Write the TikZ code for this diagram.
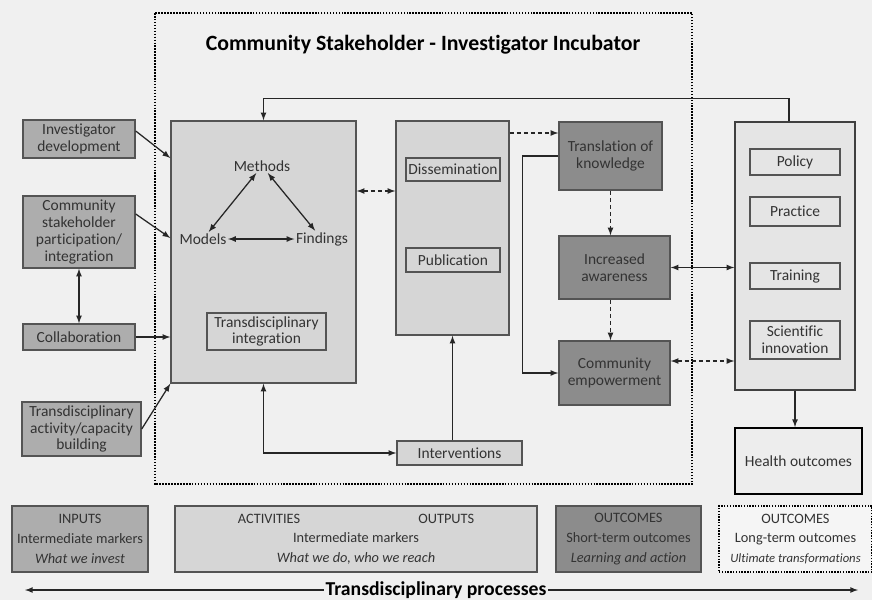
\documentclass[tikz,border=0pt]{standalone}
\usepackage{fontspec}
\setmainfont{Carlito}[Ligatures=NoCommon]
\usetikzlibrary{arrows}

\definecolor{inputgray}{gray}{0.68}
\definecolor{actgray}{gray}{0.84}
\definecolor{shortgray}{gray}{0.55}
\definecolor{longgray}{gray}{0.90}
\definecolor{boxline}{gray}{0.33}
\definecolor{txtgray}{gray}{0.2}

\begin{document}
\begin{tikzpicture}[>=latex, x=0.025cm, y=-0.025cm,
    box/.style={draw=boxline, line width=1pt, align=center, inner sep=1pt, text=txtgray,
        font=\fontsize{11}{12}\selectfont},
    inbox/.style={box, fill=inputgray},
    actbox/.style={box, fill=actgray},
    shortbox/.style={box, fill=shortgray},
    longbox/.style={box, fill=longgray},
    word/.style={text=txtgray, font=\fontsize{11}{12}\selectfont, inner sep=1pt},
    legtext/.style={align=center, text=txtgray, font=\fontsize{10.2}{14}\selectfont},
    link/.style={line width=0.9pt, black!85},
    dlink/.style={link, densely dashed}]
    \useasboundingbox (0,0) rectangle (872,600);
    \fill[black!6] (0,0) rectangle (872,600);

    % Khung incubator
    \draw[densely dotted, line width=1.1pt] (155,13) rectangle (692,484);
    \node[font=\fontsize{15.5}{17}\selectfont\bfseries] (title) at (423,45)
        {Community Stakeholder - Investigator Incubator};

    % Inputs
    \node[inbox, minimum width=2.8cm, minimum height=0.95cm] (inv) at (79,139)
        {Investigator\\development};
    \node[inbox, minimum width=2.8cm, minimum height=1.8cm] (comm) at (79,232)
        {Community\\stakeholder\\participation/\\integration};
    \node[inbox, minimum width=2.8cm, minimum height=0.65cm] (collab) at (79,337)
        {Collaboration};
    \node[inbox, minimum width=2.975cm, minimum height=1.35cm] (trans) at (81.5,429)
        {Transdisciplinary\\activity/capacity\\building};

    % Activities
    \node[actbox, minimum width=4.625cm, minimum height=6.55cm] (act) at (263.5,252) {};
    \node[word] (methods) at (262,166) {Methods};
    \node[word] (models) at (203,239) {Models};
    \node[word] (findings) at (322,239) {Findings};
    \node[actbox, minimum width=2.975cm, minimum height=0.925cm] (tdint) at (266.5,331.5)
        {Transdisciplinary\\integration};

    % Outputs
    \node[actbox, minimum width=2.825cm, minimum height=5.35cm] (outp) at (452.5,228) {};
    \node[actbox, minimum width=2.35cm, minimum height=0.575cm] (dissem) at (453,169.5)
        {Dissemination};
    \node[actbox, minimum width=2.35cm, minimum height=0.6cm] (pub) at (453,260)
        {Publication};
    \node[actbox, minimum width=3.125cm, minimum height=0.6cm] (interv) at (459.5,453)
        {Interventions};

    % Short-term outcomes
    \node[shortbox, minimum width=2.575cm, minimum height=1.7cm] (transl) at (610.5,156)
        {Translation of\\knowledge};
    \node[shortbox, minimum width=2.775cm, minimum height=1.575cm] (aware) at (614.5,267.5)
        {Increased\\awareness};
    \node[shortbox, minimum width=2.775cm, minimum height=1.6cm] (empower) at (614.5,373)
        {Community\\empowerment};

    % Long-term outcomes
    \node[longbox, draw=black!75, minimum width=3cm, minimum height=6.7cm] (longterm) at (795,256) {};
    \node[longbox, minimum width=2.25cm, minimum height=0.65cm] (policy) at (795,162) {Policy};
    \node[longbox, minimum width=2.25cm, minimum height=0.725cm] (practice) at (795,211.5) {Practice};
    \node[longbox, minimum width=2.25cm, minimum height=0.65cm] (training) at (795,276) {Training};
    \node[longbox, minimum width=2.25cm, minimum height=0.95cm] (sciinn) at (795,340)
        {Scientific\\innovation};
    \node[longbox, draw=black, line width=1.3pt, fill=black!7, minimum width=3.175cm,
        minimum height=1.65cm] (health) at (798.5,461) {Health outcomes};

    % Mui ten
    \draw[link, ->] ([yshift=0.2cm]inv.east) -- (act.west |- 0,158);
    \draw[link, ->] ([yshift=0.45cm]comm.east) -- (act.west |- 0,238);
    \draw[link, ->] (collab.east) -- (collab.east -| act.west);
    \draw[link, ->] (trans.east) -- (act.south west);
    \draw[link, <->] (comm.south) -- (collab.north);
    \draw[link, <->] (methods) -- (models);
    \draw[link, <->] (methods) -- (findings);
    \draw[link, <->] (models) -- (findings);
    \draw[dlink, <->] (act.east |- 0,191) -- (outp.west |- 0,191);
    \draw[dlink, ->] (outp.east |- 0,133) -- (transl.west |- 0,133);
    \draw[dlink, ->] (transl.south) -- (transl.south |- aware.north);
    \draw[dlink, ->] (transl.south |- aware.south) -- (transl.south |- empower.north);
    \draw[link, ->] (transl.west) -- ++(-36,0) |- (empower.west);
    \draw[link, <->] (aware.east) -- (aware.east -| longterm.west);
    \draw[dlink, <->] (empower.east |- 0,361) -- (longterm.west |- 0,361);
    \draw[link, ->] (longterm.south) -- (longterm.south |- health.north);
    \draw[link, ->] ([xshift=-0.15cm]longterm.north) -- ++(0,-23) -| (act.north);
    \draw[link, ->] (interv.north -| outp.south) -- (outp.south);
    \draw[link, <->] (act.south) |- (interv.west);

    % Chu giai
    \node[inbox, legtext, minimum width=3.4cm, minimum height=1.65cm] (leginputs) at (80,539)
        {INPUTS\\Intermediate markers\\\textit{What we invest}};
    \node[actbox, legtext, minimum width=9.05cm, minimum height=1.65cm] (legact) at (356,539)
        {ACTIVITIES\hspace{84pt}OUTPUTS\\Intermediate markers\\\textit{What we do, who we reach}};
    \node[shortbox, legtext, minimum width=3.625cm, minimum height=1.65cm] (legshort) at (628.5,539)
        {OUTCOMES\\Short-term outcomes\\\textit{Learning and action}};
    \node[longbox, legtext, draw=black, densely dotted, fill=black!4, minimum width=3.825cm,
        minimum height=1.65cm] (leglong) at (795.5,539)
        {OUTCOMES\\Long-term outcomes\\{\fontsize{9}{14}\selectfont\textit{Ultimate transformations}}};

    \node[font=\fontsize{14}{16}\selectfont\bfseries, inner sep=1pt] (tdproc) at (436,590)
        {Transdisciplinary processes};
    \coordinate (leftend) at (25,590);
    \coordinate (rightend) at (858,590);
    \draw[link, ->] (tdproc.west) -- (leftend);
    \draw[link, ->] (tdproc.east) -- (rightend);
\end{tikzpicture}
\end{document}
